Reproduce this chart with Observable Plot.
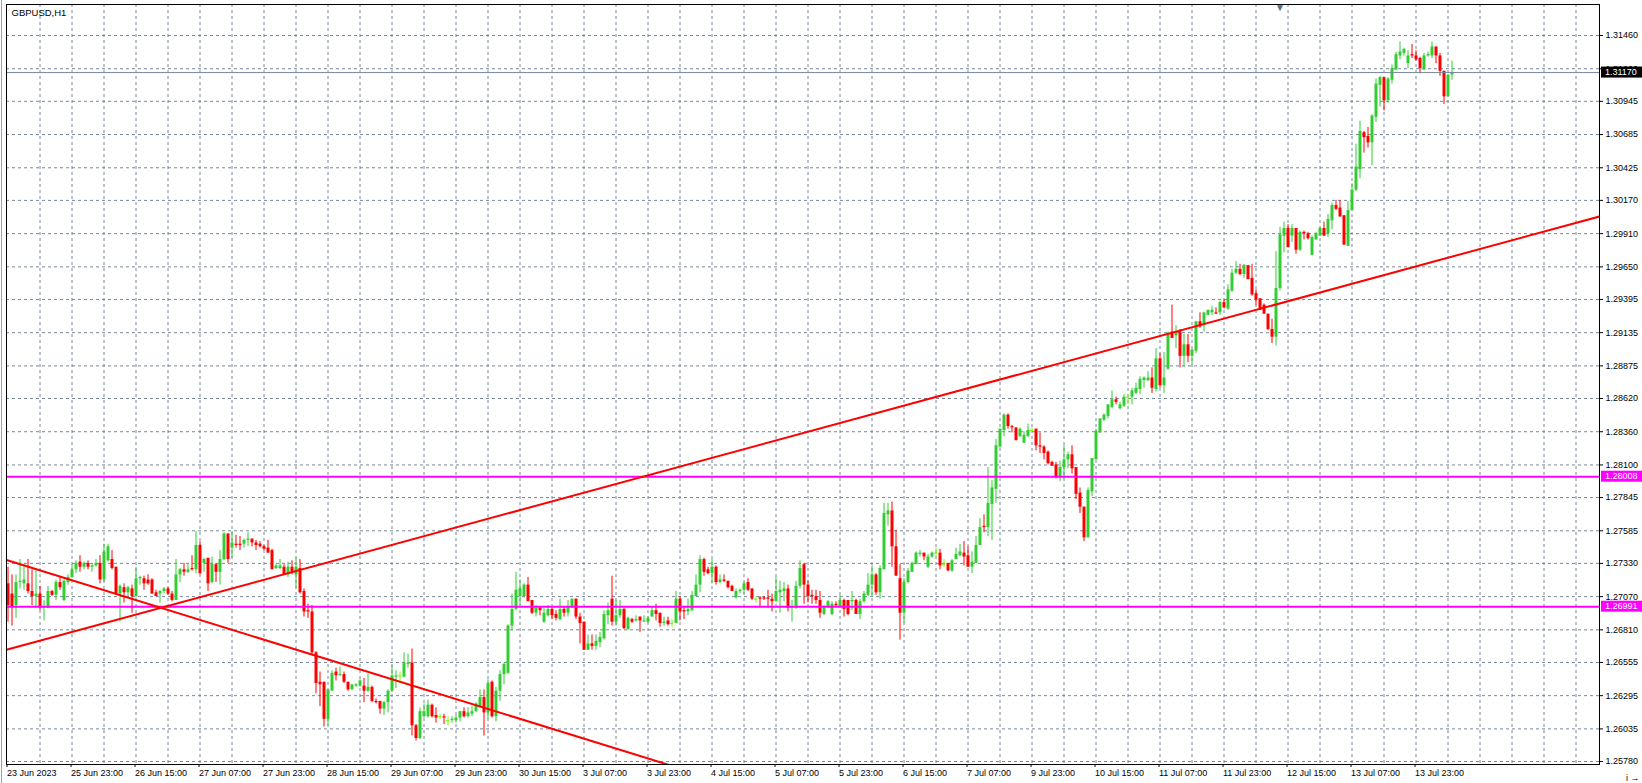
<!DOCTYPE html>
<html><head><meta charset="utf-8">
<script src="https://cdn.jsdelivr.net/npm/d3@7"></script>
<script src="https://cdn.jsdelivr.net/npm/@observablehq/plot@0.6"></script>
<style>
html,body{margin:0;padding:0;background:#fff;overflow:hidden;}
#chart{position:relative;width:1642px;height:783px;overflow:hidden;}
#chart svg{display:block;}
</style></head><body><div id="chart"></div>
<script>
const symbol = "GBPUSD,H1";

const open = [
1.2717,1.2709,1.2700,1.2718,1.2717,1.2717,1.2711,1.2707,1.2709,1.2698,
1.2698,1.2711,1.2708,1.2718,1.2704,1.2718,1.2722,1.2728,1.2734,1.2730,
1.2733,1.2730,1.2731,1.2733,1.2720,1.2735,1.2736,1.2730,1.2709,1.2714,
1.2710,1.2713,1.2707,1.2721,1.2721,1.2720,1.2720,1.2710,1.2709,1.2711,
1.2713,1.2709,1.2704,1.2724,1.2728,1.2726,1.2729,1.2728,1.2747,1.2733,
1.2737,1.2718,1.2732,1.2726,1.2736,1.2756,1.2745,1.2748,1.2748,1.2748,
1.2751,1.2752,1.2749,1.2748,1.2746,1.2745,1.2743,1.2729,1.2729,1.2730,
1.2724,1.2730,1.2724,1.2729,1.2711,1.2696,1.2695,1.2663,1.2640,1.2640,
1.2611,1.2633,1.2648,1.2645,1.2646,1.2640,1.2634,1.2637,1.2637,1.2637,
1.2633,1.2636,1.2625,1.2625,1.2619,1.2624,1.2633,1.2644,1.2645,1.2644,
1.2654,1.2655,1.2606,1.2596,1.2613,1.2613,1.2622,1.2614,1.2613,1.2613,
1.2610,1.2610,1.2610,1.2612,1.2617,1.2613,1.2615,1.2617,1.2621,1.2628,
1.2616,1.2640,1.2613,1.2633,1.2646,1.2647,1.2684,1.2697,1.2707,1.2707,
1.2716,1.2704,1.2694,1.2698,1.2687,1.2692,1.2697,1.2693,1.2689,1.2697,
1.2694,1.2699,1.2705,1.2691,1.2687,1.2665,1.2670,1.2668,1.2671,1.2674,
1.2692,1.2705,1.2687,1.2692,1.2697,1.2681,1.2689,1.2688,1.2691,1.2687,
1.2687,1.2691,1.2696,1.2694,1.2686,1.2688,1.2686,1.2686,1.2705,1.2696,
1.2695,1.2696,1.2707,1.2716,1.2736,1.2728,1.2725,1.2730,1.2718,1.2720,
1.2719,1.2715,1.2706,1.2711,1.2712,1.2718,1.2713,1.2705,1.2706,1.2706,
1.2706,1.2705,1.2703,1.2710,1.2711,1.2713,1.2698,1.2698,1.2715,1.2732,
1.2716,1.2708,1.2707,1.2704,1.2693,1.2699,1.2693,1.2701,1.2699,1.2704,
1.2704,1.2703,1.2704,1.2693,1.2703,1.2708,1.2716,1.2724,1.2710,1.2728,
1.2771,1.2774,1.2746,1.2721,1.2694,1.2718,1.2726,1.2732,1.2740,1.2741,
1.2730,1.2738,1.2741,1.2741,1.2732,1.2733,1.2727,1.2736,1.2739,1.2741,
1.2739,1.2730,1.2733,1.2747,1.2762,1.2761,1.2779,1.2791,1.2824,1.2837,
1.2849,1.2840,1.2839,1.2832,1.2827,1.2832,1.2837,1.2838,1.2825,1.2824,
1.2820,1.2812,1.2810,1.2800,1.2808,1.2814,1.2818,1.2808,1.2788,1.2777,
1.2753,1.2789,1.2814,1.2835,1.2845,1.2848,1.2855,1.2861,1.2854,1.2856,
1.2863,1.2863,1.2866,1.2869,1.2876,1.2876,1.2878,1.2869,1.2893,1.2872,
1.2885,1.2914,1.2911,1.2914,1.2895,1.2904,1.2895,1.2899,1.2922,1.2920,
1.2927,1.2929,1.2929,1.2929,1.2937,1.2932,1.2946,1.2960,1.2963,1.2959,
1.2966,1.2956,1.2944,1.2940,1.2935,1.2928,1.2916,1.2910,1.2948,1.2989,
1.2995,1.2989,1.2995,1.2978,1.2992,1.2991,1.2974,1.2986,1.2989,1.2995,
1.2991,1.3001,1.3013,1.3011,1.3005,1.2981,1.3009,1.3025,1.3041,1.3070,
1.3067,1.3062,1.3082,1.3107,1.3113,1.3095,1.3111,1.3119,1.3130,1.3132,
1.3124,1.3131,1.3130,1.3128,1.3119,1.3130,1.3130,1.3137,1.3130,1.3118,
1.3098,1.3115];

const high = [
1.2730,1.2724,1.2724,1.2736,1.2732,1.2736,1.2728,1.2728,1.2715,1.2704,
1.2715,1.2712,1.2720,1.2722,1.2720,1.2724,1.2732,1.2735,1.2739,1.2734,
1.2735,1.2732,1.2736,1.2739,1.2748,1.2748,1.2743,1.2730,1.2716,1.2717,
1.2715,1.2716,1.2730,1.2723,1.2723,1.2724,1.2721,1.2712,1.2712,1.2714,
1.2714,1.2711,1.2736,1.2729,1.2733,1.2732,1.2739,1.2758,1.2750,1.2737,
1.2737,1.2738,1.2733,1.2743,1.2757,1.2756,1.2758,1.2755,1.2754,1.2752,
1.2757,1.2752,1.2751,1.2750,1.2747,1.2751,1.2744,1.2732,1.2736,1.2732,
1.2734,1.2735,1.2737,1.2736,1.2713,1.2701,1.2700,1.2664,1.2648,1.2640,
1.2634,1.2649,1.2651,1.2652,1.2648,1.2640,1.2638,1.2639,1.2642,1.2643,
1.2646,1.2637,1.2627,1.2625,1.2625,1.2634,1.2653,1.2649,1.2648,1.2663,
1.2662,1.2666,1.2607,1.2620,1.2623,1.2626,1.2623,1.2620,1.2615,1.2615,
1.2613,1.2613,1.2614,1.2617,1.2620,1.2620,1.2621,1.2624,1.2634,1.2634,
1.2642,1.2641,1.2636,1.2649,1.2655,1.2685,1.2709,1.2726,1.2720,1.2717,
1.2722,1.2704,1.2700,1.2699,1.2698,1.2700,1.2699,1.2696,1.2705,1.2699,
1.2704,1.2705,1.2705,1.2694,1.2687,1.2677,1.2677,1.2677,1.2679,1.2696,
1.2702,1.2723,1.2704,1.2704,1.2698,1.2691,1.2690,1.2692,1.2691,1.2692,
1.2691,1.2699,1.2701,1.2694,1.2691,1.2691,1.2689,1.2711,1.2707,1.2698,
1.2705,1.2711,1.2724,1.2739,1.2737,1.2730,1.2736,1.2731,1.2724,1.2724,
1.2719,1.2716,1.2713,1.2713,1.2718,1.2721,1.2713,1.2706,1.2707,1.2707,
1.2712,1.2709,1.2722,1.2719,1.2718,1.2716,1.2704,1.2719,1.2735,1.2733,
1.2719,1.2712,1.2712,1.2711,1.2700,1.2704,1.2703,1.2703,1.2708,1.2705,
1.2704,1.2711,1.2705,1.2705,1.2711,1.2725,1.2731,1.2725,1.2731,1.2780,
1.2780,1.2781,1.2759,1.2732,1.2721,1.2729,1.2734,1.2742,1.2743,1.2741,
1.2740,1.2742,1.2745,1.2744,1.2736,1.2733,1.2736,1.2745,1.2748,1.2750,
1.2746,1.2742,1.2754,1.2768,1.2771,1.2808,1.2798,1.2830,1.2838,1.2850,
1.2850,1.2841,1.2839,1.2839,1.2836,1.2842,1.2839,1.2838,1.2835,1.2825,
1.2821,1.2813,1.2812,1.2813,1.2825,1.2820,1.2825,1.2808,1.2792,1.2777,
1.2792,1.2815,1.2838,1.2846,1.2850,1.2857,1.2868,1.2863,1.2859,1.2865,
1.2865,1.2870,1.2874,1.2879,1.2879,1.2883,1.2886,1.2901,1.2897,1.2898,
1.2914,1.2935,1.2919,1.2916,1.2912,1.2912,1.2900,1.2922,1.2929,1.2929,
1.2931,1.2934,1.2933,1.2938,1.2939,1.2951,1.2963,1.2969,1.2967,1.2967,
1.2966,1.2967,1.2947,1.2940,1.2936,1.2928,1.2924,1.2977,1.2996,1.3000,
1.2998,1.2998,1.2995,1.2993,1.2993,1.2992,1.2989,1.2992,1.2996,1.3000,
1.3006,1.3015,1.3017,1.3017,1.3005,1.3016,1.3030,1.3061,1.3079,1.3071,
1.3074,1.3084,1.3112,1.3114,1.3113,1.3113,1.3123,1.3133,1.3141,1.3136,
1.3134,1.3139,1.3134,1.3129,1.3132,1.3133,1.3141,1.3137,1.3132,1.3118,
1.3115,1.3126];

const low = [
1.2687,1.2684,1.2690,1.2713,1.2712,1.2709,1.2700,1.2698,1.2696,1.2688,
1.2698,1.2707,1.2704,1.2712,1.2703,1.2716,1.2721,1.2725,1.2726,1.2728,
1.2728,1.2726,1.2730,1.2717,1.2718,1.2734,1.2728,1.2708,1.2687,1.2702,
1.2707,1.2694,1.2706,1.2716,1.2712,1.2716,1.2709,1.2707,1.2702,1.2709,
1.2708,1.2703,1.2704,1.2718,1.2723,1.2725,1.2727,1.2725,1.2724,1.2726,
1.2711,1.2717,1.2718,1.2716,1.2735,1.2733,1.2737,1.2745,1.2743,1.2745,
1.2746,1.2746,1.2743,1.2745,1.2743,1.2741,1.2728,1.2728,1.2728,1.2724,
1.2722,1.2724,1.2713,1.2709,1.2691,1.2690,1.2661,1.2631,1.2621,1.2605,
1.2606,1.2633,1.2641,1.2645,1.2639,1.2633,1.2634,1.2636,1.2636,1.2624,
1.2632,1.2624,1.2623,1.2615,1.2614,1.2616,1.2632,1.2635,1.2639,1.2644,
1.2651,1.2598,1.2594,1.2595,1.2612,1.2612,1.2612,1.2608,1.2611,1.2607,
1.2606,1.2608,1.2608,1.2609,1.2612,1.2612,1.2613,1.2616,1.2620,1.2598,
1.2611,1.2612,1.2609,1.2625,1.2638,1.2646,1.2680,1.2696,1.2700,1.2706,
1.2703,1.2693,1.2691,1.2692,1.2686,1.2691,1.2689,1.2688,1.2688,1.2691,
1.2691,1.2698,1.2689,1.2670,1.2665,1.2665,1.2665,1.2665,1.2667,1.2673,
1.2685,1.2684,1.2684,1.2690,1.2681,1.2681,1.2686,1.2687,1.2679,1.2687,
1.2686,1.2691,1.2688,1.2683,1.2684,1.2684,1.2683,1.2686,1.2688,1.2689,
1.2692,1.2695,1.2707,1.2710,1.2723,1.2724,1.2717,1.2716,1.2717,1.2718,
1.2713,1.2711,1.2705,1.2709,1.2709,1.2711,1.2704,1.2702,1.2699,1.2704,
1.2698,1.2695,1.2703,1.2694,1.2703,1.2695,1.2687,1.2697,1.2713,1.2701,
1.2702,1.2701,1.2701,1.2690,1.2692,1.2699,1.2692,1.2699,1.2699,1.2691,
1.2692,1.2696,1.2693,1.2689,1.2702,1.2707,1.2707,1.2708,1.2705,1.2728,
1.2762,1.2730,1.2723,1.2673,1.2686,1.2717,1.2726,1.2732,1.2738,1.2735,
1.2729,1.2737,1.2737,1.2728,1.2730,1.2727,1.2726,1.2736,1.2738,1.2731,
1.2730,1.2725,1.2733,1.2747,1.2757,1.2754,1.2751,1.2780,1.2823,1.2832,
1.2838,1.2835,1.2829,1.2832,1.2827,1.2832,1.2836,1.2821,1.2819,1.2814,
1.2810,1.2809,1.2799,1.2797,1.2799,1.2807,1.2803,1.2783,1.2772,1.2750,
1.2753,1.2785,1.2814,1.2835,1.2844,1.2846,1.2854,1.2857,1.2853,1.2855,
1.2857,1.2857,1.2865,1.2865,1.2870,1.2875,1.2866,1.2867,1.2870,1.2866,
1.2884,1.2909,1.2901,1.2886,1.2886,1.2890,1.2888,1.2897,1.2917,1.2914,
1.2927,1.2927,1.2928,1.2927,1.2932,1.2931,1.2945,1.2959,1.2958,1.2956,
1.2955,1.2942,1.2935,1.2931,1.2928,1.2915,1.2905,1.2903,1.2946,1.2976,
1.2980,1.2984,1.2975,1.2977,1.2986,1.2986,1.2974,1.2986,1.2989,1.2989,
1.2988,1.2994,1.3009,1.3004,1.2982,1.2981,1.3009,1.3024,1.3034,1.3054,
1.3058,1.3044,1.3078,1.3090,1.3087,1.3093,1.3108,1.3119,1.3127,1.3130,
1.3120,1.3128,1.3126,1.3116,1.3119,1.3129,1.3128,1.3124,1.3114,1.3092,
1.3098,1.3111];

const close = [
1.2700,1.2699,1.2718,1.2719,1.2720,1.2711,1.2707,1.2709,1.2698,1.2699,
1.2711,1.2708,1.2718,1.2714,1.2719,1.2722,1.2728,1.2733,1.2730,1.2733,
1.2730,1.2731,1.2733,1.2720,1.2742,1.2746,1.2729,1.2709,1.2715,1.2710,
1.2714,1.2707,1.2721,1.2722,1.2717,1.2717,1.2709,1.2707,1.2711,1.2713,
1.2709,1.2704,1.2724,1.2728,1.2726,1.2728,1.2728,1.2747,1.2725,1.2736,
1.2717,1.2732,1.2726,1.2736,1.2756,1.2736,1.2749,1.2747,1.2747,1.2751,
1.2752,1.2749,1.2747,1.2746,1.2744,1.2741,1.2728,1.2731,1.2731,1.2724,
1.2730,1.2726,1.2730,1.2710,1.2695,1.2695,1.2663,1.2639,1.2638,1.2611,
1.2634,1.2647,1.2645,1.2646,1.2640,1.2634,1.2638,1.2638,1.2641,1.2633,
1.2636,1.2625,1.2624,1.2619,1.2624,1.2633,1.2645,1.2645,1.2645,1.2655,
1.2655,1.2606,1.2596,1.2617,1.2617,1.2622,1.2613,1.2612,1.2613,1.2612,
1.2610,1.2611,1.2612,1.2617,1.2613,1.2616,1.2617,1.2623,1.2628,1.2616,
1.2639,1.2613,1.2633,1.2646,1.2654,1.2684,1.2697,1.2712,1.2713,1.2716,
1.2703,1.2694,1.2698,1.2696,1.2694,1.2697,1.2692,1.2690,1.2697,1.2694,
1.2699,1.2705,1.2691,1.2686,1.2665,1.2670,1.2668,1.2672,1.2675,1.2693,
1.2696,1.2687,1.2692,1.2697,1.2682,1.2690,1.2687,1.2689,1.2688,1.2688,
1.2690,1.2696,1.2693,1.2686,1.2687,1.2685,1.2686,1.2705,1.2695,1.2695,
1.2697,1.2708,1.2716,1.2736,1.2726,1.2725,1.2730,1.2718,1.2720,1.2719,
1.2714,1.2711,1.2711,1.2712,1.2717,1.2712,1.2705,1.2705,1.2705,1.2705,
1.2705,1.2703,1.2711,1.2712,1.2713,1.2698,1.2699,1.2715,1.2729,1.2716,
1.2707,1.2707,1.2704,1.2694,1.2699,1.2703,1.2701,1.2700,1.2704,1.2697,
1.2693,1.2704,1.2693,1.2703,1.2709,1.2716,1.2724,1.2710,1.2729,1.2772,
1.2774,1.2746,1.2723,1.2694,1.2718,1.2727,1.2733,1.2741,1.2741,1.2738,
1.2738,1.2741,1.2741,1.2731,1.2732,1.2727,1.2735,1.2740,1.2742,1.2738,
1.2730,1.2734,1.2747,1.2761,1.2761,1.2780,1.2792,1.2825,1.2838,1.2849,
1.2840,1.2839,1.2829,1.2838,1.2833,1.2837,1.2837,1.2825,1.2824,1.2819,
1.2811,1.2809,1.2800,1.2808,1.2814,1.2818,1.2807,1.2787,1.2777,1.2753,
1.2790,1.2815,1.2836,1.2846,1.2849,1.2857,1.2861,1.2859,1.2857,1.2863,
1.2863,1.2868,1.2870,1.2877,1.2878,1.2878,1.2870,1.2893,1.2872,1.2878,
1.2913,1.2909,1.2914,1.2895,1.2904,1.2895,1.2900,1.2922,1.2918,1.2929,
1.2931,1.2931,1.2928,1.2937,1.2933,1.2947,1.2960,1.2963,1.2959,1.2966,
1.2955,1.2943,1.2939,1.2931,1.2928,1.2916,1.2910,1.2948,1.2990,1.2995,
1.2980,1.2995,1.2978,1.2992,1.2991,1.2987,1.2988,1.2991,1.2995,1.2989,
1.3002,1.3013,1.3010,1.3004,1.2982,1.3009,1.3025,1.3043,1.3071,1.3066,
1.3062,1.3083,1.3108,1.3113,1.3095,1.3112,1.3120,1.3131,1.3133,1.3135,
1.3130,1.3130,1.3127,1.3120,1.3130,1.3131,1.3137,1.3130,1.3118,1.3098,
1.3115,1.3117];

// time axis: bar index of each label and its text
const xTickBars = [0,16,32,48,64,80,96,112,128,144,160,176,192,208,224,240,256,272,288,304,320,336,352];
const xTickLabels = ["23 Jun 2023","25 Jun 23:00","26 Jun 15:00","27 Jun 07:00","27 Jun 23:00","28 Jun 15:00",
  "29 Jun 07:00","29 Jun 23:00","30 Jun 15:00","3 Jul 07:00","3 Jul 23:00","4 Jul 15:00","5 Jul 07:00",
  "5 Jul 23:00","6 Jul 15:00","7 Jul 07:00","9 Jul 23:00","10 Jul 15:00","11 Jul 07:00","11 Jul 23:00",
  "12 Jul 15:00","13 Jul 07:00","13 Jul 23:00"];
const yTickLabels = ["1.31460","1.31200","1.30945","1.30685","1.30425","1.30170","1.29910","1.29650",
  "1.29395","1.29135","1.28875","1.28620","1.28360","1.28100","1.27845","1.27585","1.27330","1.27070",
  "1.26810","1.26555","1.26295","1.26035","1.25780"];

const bidPrice = 1.31170;
const levelPrices = [1.28008, 1.26991];
// trend lines: [bar index, price] anchor points
const trendUp = [[-0.375, 1.26654], [397.875, 1.30044]];
const trendDown = [[-0.375, 1.27356], [170, 1.25707]];
const shiftMarkerBar = 318;

const colors = {up: "#32CD32", down: "#FF0000", flat: "#7CFC00"};
const bars = open.map((o, i) => ({
  i, open: o, high: high[i], low: low[i], close: close[i],
  dir: close[i] > o ? "up" : close[i] < o ? "down" : "flat"
}));
const yTicks = yTickLabels.map(Number);
const labelOf = new Map(xTickBars.map((b, k) => [b, xTickLabels[k]]));
const gridBars = d3.range(8, 398, 8);
const font = "'Liberation Sans', Arial, sans-serif";

const chart = Plot.plot({
  width: 1642, height: 783,
  marginLeft: 6, marginRight: 43, marginTop: 4, marginBottom: 19,
  x: {domain: [-0.375, 397.875], axis: null},
  y: {domain: [1.257565, 1.317025], axis: null},
  color: {type: "identity"},
  style: {fontFamily: font, fontSize: "9px", color: "#000", background: "#fff"},
  marks: [
    Plot.gridY(yTicks, {stroke: "#778899", strokeOpacity: 1, strokeDasharray: "3,3"}),
    Plot.gridX(gridBars, {stroke: "#778899", strokeOpacity: 1, strokeDasharray: "3,3"}),
    Plot.ruleX(bars, {x: "i", y1: "low", y2: "high", stroke: d => colors[d.dir], strokeWidth: 1}),
    Plot.ruleX(bars.filter(d => d.dir !== "flat"), {x: "i", y1: "open", y2: "close", stroke: d => colors[d.dir], strokeWidth: 3}),
    Plot.ruleY(bars.filter(d => d.dir === "flat"), {y: "close", x1: d => d.i - 0.375, x2: d => d.i + 0.375, stroke: colors.flat, strokeWidth: 1}),
    Plot.ruleY([bidPrice], {stroke: "#778899", strokeWidth: 1}),
    Plot.ruleY(levelPrices, {stroke: "#FF00FF", strokeWidth: 2}),
    Plot.line(trendUp, {x: d => d[0], y: d => d[1], stroke: "#FF0000", strokeWidth: 2, clip: true}),
    Plot.line(trendDown, {x: d => d[0], y: d => d[1], stroke: "#FF0000", strokeWidth: 2, clip: true}),
    Plot.frame({stroke: "#000", strokeWidth: 1}),
    Plot.axisY(yTicks, {anchor: "right", tickSize: 3, tickPadding: 3, tickFormat: d => d.toFixed(5), fill: "#000", stroke: "#000"}),
    Plot.axisX(xTickBars, {anchor: "bottom", tickSize: 3, tickPadding: 2, textAnchor: "start", dx: -1, tickFormat: d => labelOf.get(d), fill: "#000", stroke: "#000"}),
    Plot.text([symbol], {frameAnchor: "top-left", text: d => d, dx: 5, dy: 5, lineAnchor: "top", fill: "#000", fontSize: 9.5}),
    Plot.text(["\u25BC"], {x: () => shiftMarkerBar, frameAnchor: "top", text: d => d, dy: -1, fill: "#5f6b78", fontSize: 10})
  ]
});
document.getElementById("chart").appendChild(chart);

// price label boxes on the right axis, placed with the chart's own y scale
const ys = chart.scale("y");
const svg = d3.select(chart);
const boxes = [{v: bidPrice, bg: "#000"}, ...levelPrices.map(v => ({v, bg: "#FF00FF"}))];
const g = svg.append("g").attr("text-anchor", "start");
for (const b of boxes) {
  const yy = ys.apply(b.v);
  g.append("rect").attr("x", 1601).attr("y", yy - 5.5).attr("width", 41).attr("height", 11).attr("fill", b.bg);
  g.append("text").attr("x", 1605).attr("y", yy).attr("dy", "0.34em").attr("text-anchor", "start")
    .attr("fill", "#fff").attr("font-family", font).attr("font-size", 9).text(b.v.toFixed(5));
}
svg.append("line").attr("x1", 1.5).attr("x2", 1.5).attr("y1", 0).attr("y2", 783).attr("stroke", "#a0a0a0");
</script>
</body></html>
